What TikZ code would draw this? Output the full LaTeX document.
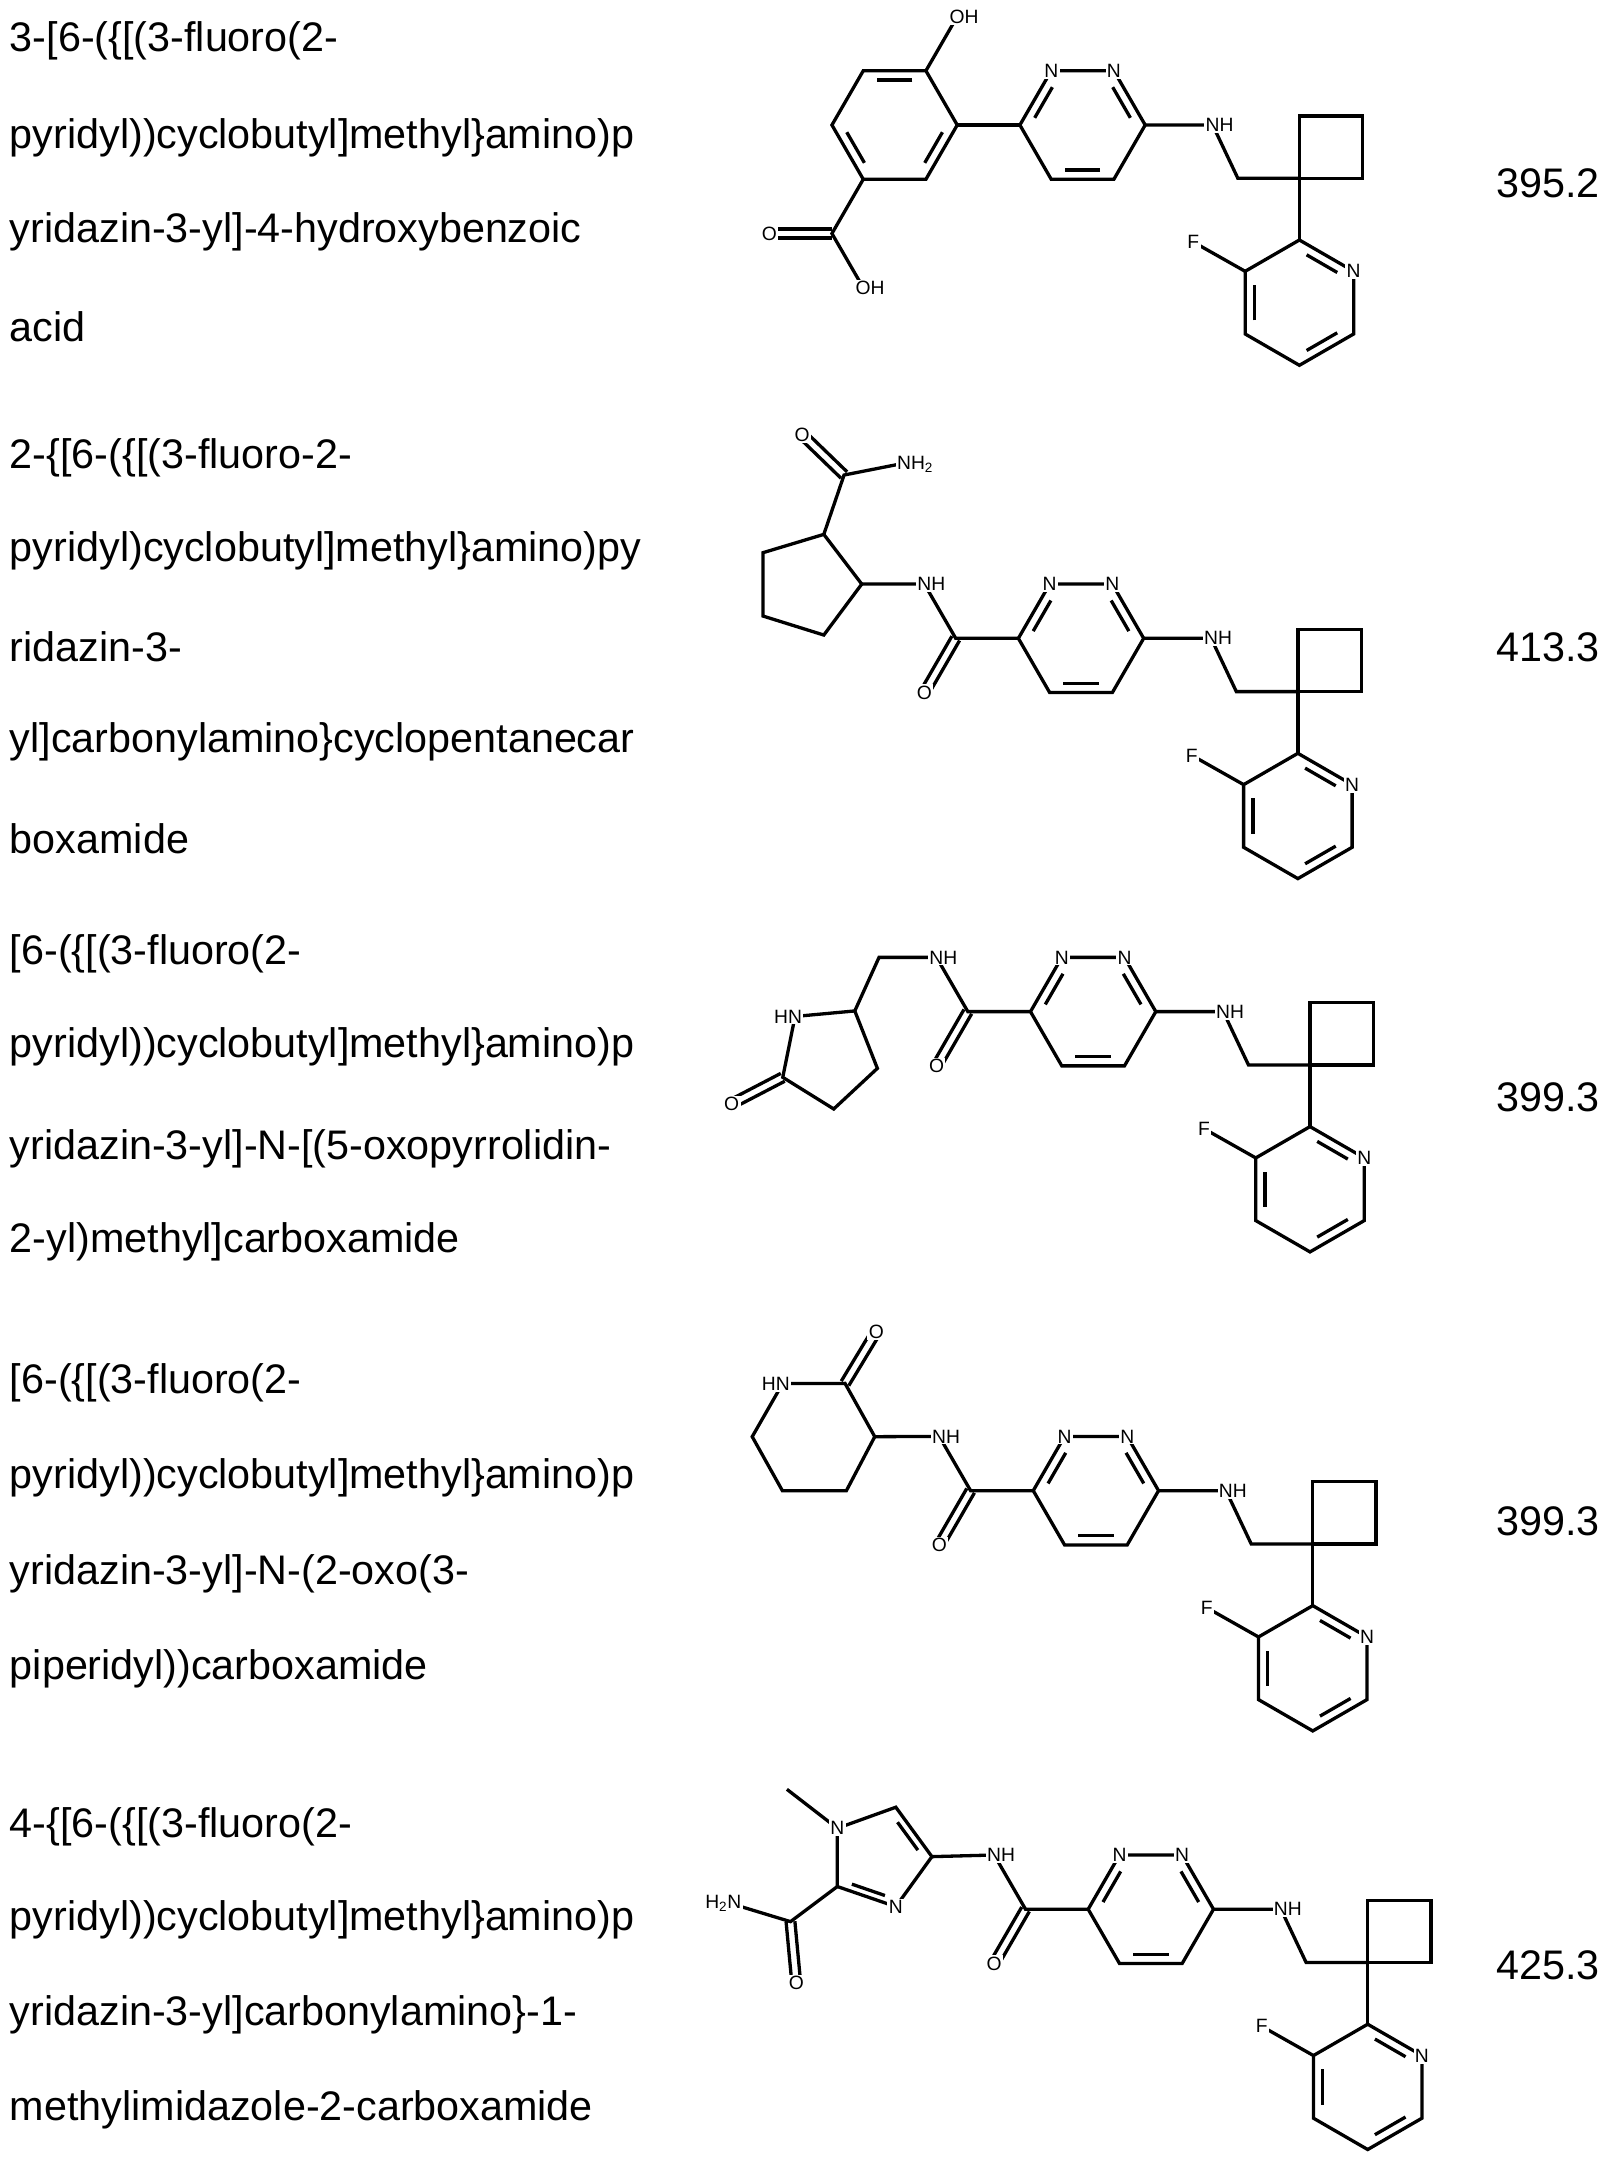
\documentclass[tikz,border=0pt]{standalone}
\usepackage{fontspec}
\setmainfont{Liberation Sans}
\usetikzlibrary{calc}
\tikzset{
 bond/.style={line width=2.4pt},
 atom/.style={fill=white, inner sep=1pt, font=\fontsize{14}{15}\selectfont},
 nametext/.style={anchor=west, inner sep=0pt, font=\fontsize{30}{36}\selectfont},
 numtext/.style={anchor=east, inner sep=0pt, font=\fontsize{30}{36}\selectfont}
}
\newcommand\rdb[3]{\draw[bond] ($($(#1)!0.16!(#2)$)!0.17!(#3)$) -- ($($(#2)!0.16!(#1)$)!0.17!(#3)$);}
\newcommand\odb[2]{\draw[bond] ($(#1)!3.2pt!90:(#2)$) -- ($(#2)!3.2pt!-90:(#1)$); \draw[bond] ($(#1)!3.2pt!-90:(#2)$) -- ($(#2)!3.2pt!90:(#1)$);}
\newcommand\tailpart[1]{%
 \coordinate (#1TL) at (0,0); \coordinate (#1TN1) at (22.75,-39.4); \coordinate (#1TN2) at (68.25,-39.4);
 \coordinate (#1TR) at (91,0); \coordinate (#1TBR) at (68.25,39.4); \coordinate (#1TBL) at (22.75,39.4);
 \coordinate (#1TZc) at (45.5,0);
 \coordinate (#1TNH) at (140,0); \coordinate (#1TCH) at (158.3,38.7); \coordinate (#1TQ) at (203,38.7);
 \coordinate (#1TK1) at (203,-6.6); \coordinate (#1TK2) at (249,-6.6); \coordinate (#1TK3) at (249,38.7);
 \coordinate (#1TY2) at (203,83.5); \coordinate (#1TYN) at (242.4,106.25); \coordinate (#1TY4) at (242.4,151.75);
 \coordinate (#1TY5) at (203,174.5); \coordinate (#1TY6) at (163.6,151.75); \coordinate (#1TY3) at (163.6,106.25);
 \coordinate (#1TYF) at (126,85); \coordinate (#1TYc) at (203,129);
 \draw[bond] (#1TL)--(#1TN1)--(#1TN2)--(#1TR)--(#1TBR)--(#1TBL)--cycle;
 \rdb{#1TL}{#1TN1}{#1TZc}\rdb{#1TN2}{#1TR}{#1TZc}\rdb{#1TBR}{#1TBL}{#1TZc}
 \draw[bond] (#1TR)--(#1TNH)--(#1TCH)--(#1TQ);
 \draw[bond] (#1TQ)--(#1TK1)--(#1TK2)--(#1TK3)--cycle;
 \draw[bond] (#1TQ)--(#1TY2);
 \draw[bond] (#1TY2)--(#1TYN)--(#1TY4)--(#1TY5)--(#1TY6)--(#1TY3)--cycle;
 \rdb{#1TY2}{#1TYN}{#1TYc}\rdb{#1TY4}{#1TY5}{#1TYc}\rdb{#1TY6}{#1TY3}{#1TYc}
 \draw[bond] (#1TY3)--(#1TYF);
 \node[atom] (#1TtN1) at (#1TN1) {N}; \node[atom] (#1TtN2) at (#1TN2) {N};
 \node[atom] (#1TtNH) at ($(#1TNH)+(5,0)$) {NH};
 \node[atom] (#1TtYN) at (#1TYN) {N}; \node[atom] (#1TtF) at (#1TYF) {F};
}
\begin{document}
\begin{tikzpicture}[x=1pt,y=-1pt]
\useasboundingbox[fill=white] (0,0) rectangle (1170,1568);

% ---------- names ----------
\node[nametext] (a1) at (7,30) {3-[6-(\{[(3-fluoro(2-};
\node[nametext] (a2) at (7,100) {pyridyl))cyclobutyl]methyl\}amino)p};
\node[nametext] (a3) at (7,168.5) {yridazin-3-yl]-4-hydroxybenzoic};
\node[nametext] (a4) at (7,237.5) {acid};
\node[nametext] (b1) at (7,332.5) {2-\{[6-(\{[(3-fluoro-2-};
\node[nametext] (b2) at (7,400) {pyridyl)cyclobutyl]methyl\}amino)py};
\node[nametext] (b3) at (7,470) {ridazin-3-};
\node[nametext] (b4) at (7,539) {yl]carbonylamino\}cyclopentanecar};
\node[nametext] (b5) at (7,609) {boxamide};
\node[nametext] (c1) at (7,692.5) {[6-(\{[(3-fluoro(2-};
\node[nametext] (c2) at (7,760) {pyridyl))cyclobutyl]methyl\}amino)p};
\node[nametext] (c3) at (7,834.3) {yridazin-3-yl]-N-[(5-oxopyrrolidin-};
\node[nametext] (c4) at (7,901.8) {2-yl)methyl]carboxamide};
\node[nametext] (d1) at (7,1004) {[6-(\{[(3-fluoro(2-};
\node[nametext] (d2) at (7,1073) {pyridyl))cyclobutyl]methyl\}amino)p};
\node[nametext] (d3) at (7,1143) {yridazin-3-yl]-N-(2-oxo(3-};
\node[nametext] (d4) at (7,1212) {piperidyl))carboxamide};
\node[nametext] (e1) at (7,1327) {4-\{[6-(\{[(3-fluoro(2-};
\node[nametext] (e2) at (7,1394) {pyridyl))cyclobutyl]methyl\}amino)p};
\node[nametext] (e3) at (7,1463) {yridazin-3-yl]carbonylamino\}-1-};
\node[nametext] (e4) at (7,1532) {methylimidazole-2-carboxamide};

% ---------- numbers ----------
\node[numtext] (m1) at (1162,133) {395.2};
\node[numtext] (m2) at (1162,470) {413.3};
\node[numtext] (m3) at (1162,797) {399.3};
\node[numtext] (m4) at (1162,1105) {399.3};
\node[numtext] (m5) at (1162,1427) {425.3};

% ---------- structure 1 ----------
\begin{scope}[shift={(740.7,90.8)}]
 \coordinate (aC6) at (-45.5,0); \coordinate (aC1) at (-68.25,-39.4); \coordinate (aC2) at (-113.75,-39.4);
 \coordinate (aC3) at (-136.5,0); \coordinate (aC4) at (-113.75,39.4); \coordinate (aC5) at (-68.25,39.4);
 \coordinate (aBc) at (-91,0); \coordinate (aO1) at (-45.5,-78.8); \coordinate (aCc) at (-136.5,78.8);
 \coordinate (aO2) at (-182,78.8); \coordinate (aO3) at (-113.75,118.2);
 \draw[bond] (aC1)--(aC2)--(aC3)--(aC4)--(aC5)--(aC6)--cycle;
 \rdb{aC1}{aC2}{aBc}\rdb{aC3}{aC4}{aBc}\rdb{aC5}{aC6}{aBc}
 \draw[bond] (aC1)--(aO1); \draw[bond] (aC4)--(aCc)--(aO3); \odb{aCc}{aO2}
 \tailpart{a}
 \draw[bond] (aC6)--(aTL);
 \node[atom] (atO1) at ($(aO1)+(5,0)$) {OH};
 \node[atom] (atO2) at (aO2) {O};
 \node[atom] (atO3) at ($(aO3)+(5,0)$) {OH};
\end{scope}

% ---------- structure 2 ----------
\begin{scope}[shift={(739.6,463.6)}]
 \coordinate (bCa) at (-45.5,0); \coordinate (bO) at (-68.25,39.4); \coordinate (bNH) at (-68.25,-39.4);
 \coordinate (bP1) at (-113.75,-39.4); \coordinate (bP2) at (-141.3,-75.5); \coordinate (bP3) at (-185.5,-62.2);
 \coordinate (bP4) at (-185.5,-16.2); \coordinate (bP5) at (-141.3,-2.4);
 \coordinate (bCb) at (-126.6,-118.6); \coordinate (bOb) at (-157,-148); \coordinate (bNb) at (-84,-127);
 \tailpart{b}
 \draw[bond] (bTL)--(bCa)--(bNH)--(bP1); \odb{bCa}{bO}
 \draw[bond] (bP1)--(bP2)--(bP3)--(bP4)--(bP5)--cycle;
 \draw[bond] (bP2)--(bCb)--(bNb); \odb{bCb}{bOb}
 \node[atom] (btO) at (bO) {O};
 \node[atom] (btNH) at ($(bNH)+(5,0)$) {NH};
 \node[atom] (btOb) at (bOb) {O};
 \node[atom] (btNb) at ($(bNb)+(9,1)$) {NH\textsubscript{2}};
\end{scope}

% ---------- structure 3 ----------
\begin{scope}[shift={(748.4,734.7)}]
 \coordinate (cCa) at (-45.5,0); \coordinate (cO) at (-68.25,39.4); \coordinate (cNH) at (-68.25,-39.4);
 \coordinate (cCH) at (-110,-39.4); \coordinate (cC5) at (-127.6,-0.5); \coordinate (cN) at (-171,3.5);
 \coordinate (cCc) at (-179.9,47.7); \coordinate (cOc) at (-217,67); \coordinate (cC3) at (-142.9,70.7);
 \coordinate (cC4) at (-111.2,41.2);
 \tailpart{c}
 \draw[bond] (cTL)--(cCa)--(cNH)--(cCH)--(cC5); \odb{cCa}{cO}
 \draw[bond] (cC5)--(cN)--(cCc)--(cC3)--(cC4)--cycle; \odb{cCc}{cOc}
 \node[atom] (ctO) at (cO) {O};
 \node[atom] (ctNH) at ($(cNH)+(5,0)$) {NH};
 \node[atom] (ctN) at ($(cN)+(-5,0)$) {HN};
 \node[atom] (ctOc) at (cOc) {O};
\end{scope}

% ---------- structure 4 ----------
\begin{scope}[shift={(750.4,1082.6)}]
 \coordinate (dCa) at (-45.5,0); \coordinate (dO) at (-68.25,39.4); \coordinate (dNH) at (-68.25,-39.4);
 \coordinate (dC3) at (-115.1,-39.2); \coordinate (dC2) at (-136.7,-77.9); \coordinate (dOc) at (-114,-115.5);
 \coordinate (dN) at (-182,-77.8); \coordinate (dC6) at (-204.1,-39.2); \coordinate (dC5) at (-182.2,0);
 \coordinate (dC4) at (-135.7,0);
 \tailpart{d}
 \draw[bond] (dTL)--(dCa)--(dNH)--(dC3); \odb{dCa}{dO}
 \draw[bond] (dC3)--(dC2)--(dN)--(dC6)--(dC5)--(dC4)--cycle; \odb{dC2}{dOc}
 \node[atom] (dtO) at (dO) {O};
 \node[atom] (dtNH) at ($(dNH)+(5,0)$) {NH};
 \node[atom] (dtN) at ($(dN)+(-5,0)$) {HN};
 \node[atom] (dtOc) at (dOc) {O};
\end{scope}

% ---------- structure 5 ----------
\begin{scope}[shift={(790.3,1386.6)}]
 \coordinate (eCa) at (-45.5,0); \coordinate (eO) at (-68.25,39.4); \coordinate (eNH) at (-68.25,-39.4);
 \coordinate (eC4) at (-113.5,-38.2); \coordinate (eC5) at (-139.7,-74.1); \coordinate (eN1) at (-182.2,-58.8);
 \coordinate (eMe) at (-218.8,-87.1); \coordinate (eC2) at (-182.2,-16.5); \coordinate (eN3) at (-139.7,-1.9);
 \coordinate (eIc) at (-153,-38); \coordinate (eCm) at (-216.2,9); \coordinate (eNm) at (-259,-4);
 \coordinate (eOm) at (-212,53.7);
 \tailpart{e}
 \draw[bond] (eTL)--(eCa)--(eNH)--(eC4); \odb{eCa}{eO}
 \draw[bond] (eC4)--(eC5)--(eN1)--(eC2)--(eN3)--cycle;
 \rdb{eC4}{eC5}{eIc}\rdb{eC2}{eN3}{eIc}
 \draw[bond] (eN1)--(eMe); \draw[bond] (eC2)--(eCm)--(eNm); \odb{eCm}{eOm}
 \node[atom] (etO) at (eO) {O};
 \node[atom] (etNH) at ($(eNH)+(5,0)$) {NH};
 \node[atom] (etN1) at (eN1) {N};
 \node[atom] (etN3) at (eN3) {N};
 \node[atom] (etNm) at ($(eNm)+(-6,0)$) {H\textsubscript{2}N};
 \node[atom] (etOm) at (eOm) {O};
\end{scope}
\end{tikzpicture}
\end{document}
